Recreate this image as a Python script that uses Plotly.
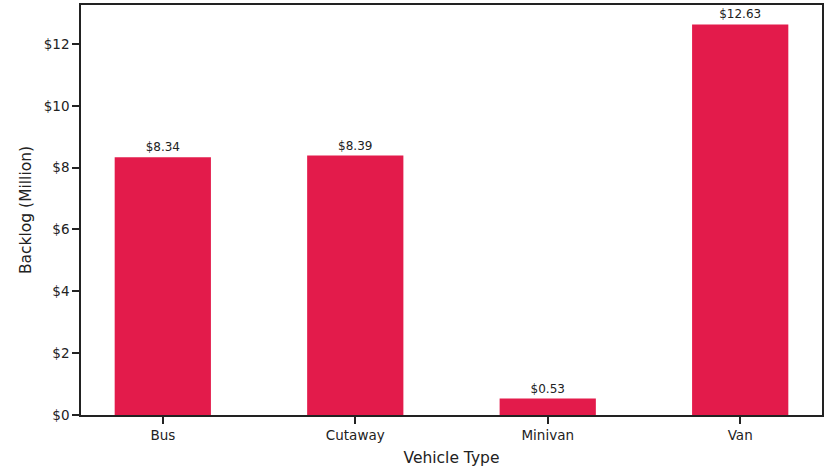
import plotly.graph_objects as go

categories = ["Bus", "Cutaway", "Minivan", "Van"]
backlog = [8.34, 8.39, 0.53, 12.63]
labels = ["$8.34", "$8.39", "$0.53", "$12.63"]

fig = go.Figure(go.Bar(
    x=categories, y=backlog, text=labels, textposition="outside",
    marker=dict(color="#E31B4B", line=dict(width=0)), width=0.5,
    textfont=dict(family="DejaVu Sans", size=12, color="#222"),
    cliponaxis=False,
))
fig.update_layout(
    width=824, height=472, margin=dict(l=81, r=0, t=5, b=57),
    plot_bgcolor="white", paper_bgcolor="white",
    font=dict(family="DejaVu Sans", size=14, color="#222"),
    showlegend=False,
)
fig.update_xaxes(
    range=[-0.425, 3.425], showline=True, linecolor="#222", linewidth=1.5, mirror=True,
    ticks="outside", ticklen=7, tickwidth=1.5, tickcolor="#222", showgrid=False,
    tickfont=dict(size=13.5),
    title=dict(text="Vehicle Type", font=dict(size=15.5), standoff=10),
)
fig.update_yaxes(
    range=[0, 13.26], showline=True, linecolor="#222", linewidth=1.5, mirror=True,
    ticks="outside", ticklen=7, tickwidth=1.5, tickcolor="#222", showgrid=False,
    tickprefix="$", dtick=2, zeroline=False, tickfont=dict(size=13.5),
    title=dict(text="Backlog (Million)", font=dict(size=15.5), standoff=8),
)
fig.write_html("out.html", config={"displayModeBar": False},
               post_script="document.body.style.margin='0';")
